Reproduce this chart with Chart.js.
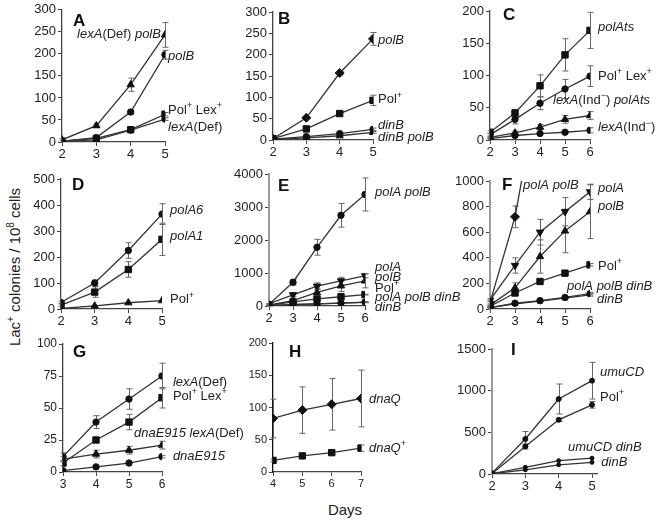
<!DOCTYPE html>
<html>
<head>
<meta charset="utf-8">
<script src="https://cdn.jsdelivr.net/npm/chart.js@4.4.1/dist/chart.umd.min.js"></script>
<style>
  html, body { margin: 0; padding: 0; background: #fff; }
  #wrap { position: relative; width: 661px; height: 523px; overflow: hidden;
          font-family: 'Liberation Sans', Arial, sans-serif; color: #222; }
  #wrap canvas { position: absolute; left: 0; top: 0; }
  #ytitle { position: absolute; left: -136px; top: 258px; width: 300px; text-align: center;
            font-size: 15px; transform: rotate(-90deg); }
  #xtitle { position: absolute; left: 300px; top: 501px; width: 90px; text-align: center; font-size: 15px; }
  sup { font-size: 10px; }
</style>
</head>
<body>
<div id="wrap">
  <div id="ytitle">Lac<sup>+</sup> colonies / 10<sup>8</sup> cells</div>
  <div id="xtitle">Days</div>
</div>
<script>
// ---- data ----
const daysA = [2, 3, 4, 5];
const aLexDefPolB = [5, 37, 130, 243];   const aLexDefPolBErr = [2, 4, 15, 28];
const aPolB = [2, 10, 68, 198];          const aPolBErr = [0, 0, 4, 10];
const aPolLex = [2, 8, 28, 63];          const aPolLexErr = [0, 0, 0, 4];
const aLexDef = [1, 5, 27, 52];          const aLexDefErr = [0, 0, 0, 3];

const daysB = [2, 3, 4, 5];
const bPolB = [3, 52, 157, 237];         const bPolBErr = [0, 3, 4, 15];
const bPol = [3, 26, 62, 93];            const bPolErr = [0, 2, 5, 12];
const bDinB = [2, 8, 15, 25];            const bDinBErr = [0, 0, 2, 3];
const bDinBPolB = [1, 5, 10, 18];        const bDinBPolBErr = [0, 0, 0, 2];

const daysC = [2, 3, 4, 5, 6];
const cPolAts = [12, 42, 84, 132, 170];  const cPolAtsErr = [2, 5, 17, 25, 28];
const cPolLex = [8, 32, 57, 79, 99];     const cPolLexErr = [2, 7, 10, 15, 16];
const cIndPolAts = [4, 11, 20, 32, 38];  const cIndPolAtsErr = [1, 3, 4, 6, 6];
const cInd = [2, 7, 10, 12, 15];         const cIndErr = [1, 1, 1, 2, 4];

const daysD = [2, 3, 4, 5];
const dPolA6 = [25, 100, 225, 365];      const dPolA6Err = [5, 12, 30, 40];
const dPolA1 = [15, 65, 152, 268];       const dPolA1Err = [5, 20, 30, 62];
const dPol = [2, 12, 24, 32];            const dPolErr = [0, 0, 0, 0];

// panels E and F show the same strains at two y ranges
const daysEF = [2, 3, 4, 5, 6];
const efPolAPolB = [50, 720, 1780, 2750, 3380];  const efPolAPolBErr = [20, 85, 240, 360, 500];
const efPolA = [70, 340, 600, 760, 915];         const efPolAErr = [10, 60, 100, 110, 60];
const efPolB = [30, 165, 410, 610, 760];         const efPolBErr = [10, 40, 130, 170, 210];
const efPol = [20, 125, 215, 280, 345];          const efPolErr = [5, 10, 10, 10, 10];
const efPolAPolBDinB = [10, 45, 65, 90, 120];    const efPolAPolBDinBErr = [3, 5, 5, 8, 10];
const efDinB = [10, 40, 62, 85, 110];            const efDinBErr = [3, 5, 5, 8, 10];

const daysG = [3, 4, 5, 6];
const gLexDef = [12, 39, 57, 75];        const gLexDefErr = [3, 5, 8, 10];
const gPolLex = [7, 25, 39, 58];         const gPolLexErr = [2, 2, 6, 8];
const gDnaELex = [10, 14, 17, 21];       const gDnaELexErr = [2, 3, 3, 3];
const gDnaE = [1, 4, 7, 12];             const gDnaEErr = [0, 0, 0, 1];

const daysH = [4, 5, 6, 7];
const hDnaQ = [83, 96, 105, 114];        const hDnaQErr = [30, 36, 40, 44];
const hDnaQPlus = [18, 25, 30, 37];      const hDnaQPlusErr = [2, 2, 3, 5];

const daysI = [2, 3, 4, 5];
const iUmuCD = [10, 420, 900, 1120];     const iUmuCDErr = [0, 90, 180, 220];
const iPol = [5, 330, 650, 830];         const iPolErr = [0, 30, 20, 40];
const iUmuDinB = [5, 80, 160, 190];      const iUmuDinBErr = [0, 0, 0, 0];
const iDinB = [3, 50, 110, 140];         const iDinBErr = [0, 0, 0, 0];

// ---- drawing ----
const FONT = "'Liberation Sans', Arial, sans-serif";
const YW = 48, XH = 20;
const wrap = document.getElementById('wrap');

function drawRich(ctx, s, x, y, size) {
  let it = false, sup = false;
  ctx.textBaseline = 'middle';
  ctx.textAlign = 'left';
  s.split(/([_^])/).forEach(p => {
    if (p === '_') { it = !it; return; }
    if (p === '^') { sup = !sup; return; }
    if (!p) return;
    const fs = sup ? Math.round(size * 0.7) : size;
    ctx.font = (it ? 'italic ' : '') + fs + 'px ' + FONT;
    ctx.fillText(p, x, sup ? y - size * 0.35 : y);
    x += ctx.measureText(p).width;
  });
}

const errorBars = {
  id: 'errorBars',
  beforeDatasetsDraw(chart) {
    const ctx = chart.ctx, a = chart.chartArea;
    const xs = chart.scales.x, ys = chart.scales.y;
    ctx.save();
    ctx.beginPath();
    ctx.rect(a.left - 6, a.top - 6, a.right - a.left + 12, a.bottom - a.top + 12);
    ctx.clip();
    ctx.strokeStyle = '#666';
    ctx.lineWidth = 1;
    chart.data.datasets.forEach(ds => {
      if (!ds.err) return;
      ds.data.forEach((p, j) => {
        const e = ds.err[j];
        if (!e) return;
        const x = Math.round(xs.getPixelForValue(p.x)) + 0.5;
        const y1 = ys.getPixelForValue(p.y + e), y2 = ys.getPixelForValue(p.y - e);
        ctx.beginPath();
        ctx.moveTo(x, y1); ctx.lineTo(x, y2);
        ctx.moveTo(x - 3, y1); ctx.lineTo(x + 3, y1);
        ctx.moveTo(x - 3, y2); ctx.lineTo(x + 3, y2);
        ctx.stroke();
      });
    });
    ctx.restore();
  }
};

function makeNotes(p) {
  return {
    id: 'notes',
    afterDraw(chart) {
      const ctx = chart.ctx, a = chart.chartArea;
      ctx.save();
      ctx.fillStyle = '#111';
      ctx.font = 'bold 17px ' + FONT;
      ctx.textAlign = 'left';
      ctx.textBaseline = 'middle';
      ctx.fillText(p.letter[0], a.left + p.letter[1], a.top + p.letter[2]);
      ctx.fillStyle = '#222';
      p.notes.forEach(n => {
        drawRich(ctx, n[0], chart.scales.x.getPixelForValue(n[1]), chart.scales.y.getPixelForValue(n[2]), 13);
      });
      ctx.restore();
    }
  };
}

function series(days, y, err, marker, extra) {
  const radius = marker === 'rect' ? 4.5 : (marker === 'triangle' ? 4.2 : (marker === 'rectRot' ? 4.5 : 3.2));
  return Object.assign({
    data: days.map((d, i) => ({ x: d, y: y[i] })),
    err: err,
    borderColor: '#333',
    borderWidth: 1.3,
    backgroundColor: '#111',
    pointBackgroundColor: '#111',
    pointBorderColor: '#111',
    pointBorderWidth: 1,
    pointStyle: marker,
    pointRadius: radius,
    tension: 0
  }, extra || {});
}

function makePanel(p) {
  const cv = document.createElement('canvas');
  cv.width = 661; cv.height = 523;
  wrap.appendChild(cv);
  const b = p.box;
  const axisColor = p.axisColor || '#444';
  new Chart(cv, {
    type: 'line',
    data: { datasets: p.series },
    options: {
      responsive: false,
      animation: false,
      devicePixelRatio: 1,
      layout: { padding: { left: b[0] - YW, top: b[1], right: 661 - b[2], bottom: 523 - b[3] - XH } },
      plugins: { legend: { display: false }, tooltip: { enabled: false } },
      scales: {
        x: {
          type: 'linear', min: p.xMin, max: p.xMax,
          ticks: { stepSize: 1, color: '#222', padding: 1, font: { family: FONT, size: p.tickSize || 13 },
                   callback: v => String(Math.round(v)) },
          grid: { drawOnChartArea: false, tickLength: 4, color: '#444' },
          border: { color: '#444', width: 1.3 },
          afterBuildTicks(s) {
            // whole days only (panel I runs its axis a little past day 5)
            const t = [];
            for (let v = Math.ceil(s.min); v <= Math.floor(s.max); v++) t.push({ value: v });
            s.ticks = t;
          },
          afterFit(s) { s.height = XH; }
        },
        y: {
          min: 0, max: p.yMax,
          ticks: { stepSize: p.yStep, color: '#222', padding: 2, font: { family: FONT, size: p.tickSize || 13 },
                   callback: v => String(v) },
          grid: { drawOnChartArea: false, tickLength: 4, color: '#444' },
          border: { color: axisColor, width: p.axisWidth || 1.3 },
          afterFit(s) { s.width = YW; }
        }
      }
    },
    plugins: [errorBars, makeNotes(p)]
  });
}

const panels = [
  { box: [62, 8, 165, 142], xMin: 2, xMax: 5, yMax: 300, yStep: 50, letter: ['A', 11, 12],
    series: [
      series(daysA, aLexDefPolB, aLexDefPolBErr, 'triangle'),
      series(daysA, aPolB, aPolBErr, 'circle'),
      series(daysA, aPolLex, aPolLexErr, 'rect'),
      series(daysA, aLexDef, aLexDefErr, 'circle')
    ],
    notes: [['_lexA_(Def) _polB_', 2.44, 244], ['_polB_', 5.09, 195], ['Pol^+^ Lex^+^', 5.09, 72], ['_lexA_(Def)', 5.09, 34]] },
  { box: [273, 12, 373, 140], xMin: 2, xMax: 5, yMax: 300, yStep: 50, letter: ['B', 5, 7],
    series: [
      series(daysB, bPolB, bPolBErr, 'rectRot'),
      series(daysB, bPol, bPolErr, 'rect'),
      series(daysB, bDinB, bDinBErr, 'circle'),
      series(daysB, bDinBPolB, bDinBPolBErr, 'triangle')
    ],
    notes: [['_polB_', 5.15, 234], ['Pol^+^', 5.15, 94], ['_dinB_', 5.15, 35], ['_dinB polB_', 5.15, 7]] },
  { box: [490, 11, 590, 140], xMin: 2, xMax: 6, yMax: 200, yStep: 50, letter: ['C', 13, 4],
    series: [
      series(daysC, cPolAts, cPolAtsErr, 'rect'),
      series(daysC, cPolLex, cPolLexErr, 'circle'),
      series(daysC, cIndPolAts, cIndPolAtsErr, 'triangle'),
      series(daysC, cInd, cIndErr, 'circle')
    ],
    notes: [['_polAts_', 6.32, 174], ['Pol^+^ Lex^+^', 6.32, 99], ['_lexA_(Ind^−^) _polAts_', 4.52, 62], ['_lexA_(Ind^−^)', 6.32, 19]] },
  { box: [61, 179, 162, 309], xMin: 2, xMax: 5, yMax: 500, yStep: 100, letter: ['D', 11, 6],
    series: [
      series(daysD, dPolA6, dPolA6Err, 'circle'),
      series(daysD, dPolA1, dPolA1Err, 'rect'),
      series(daysD, dPol, dPolErr, 'triangle')
    ],
    notes: [['_polA6_', 5.24, 381], ['_polA1_', 5.24, 281], ['Pol^+^', 5.24, 35]] },
  { box: [269, 174, 365, 306], xMin: 2, xMax: 6, yMax: 4000, yStep: 1000, letter: ['E', 9, 12],
    axisColor: '#999', axisWidth: 2,
    series: [
      series(daysEF, efPolAPolB, efPolAPolBErr, 'circle'),
      series(daysEF, efPolA, efPolAErr, 'triangle', { pointRotation: 180 }),
      series(daysEF, efPolB, efPolBErr, 'triangle'),
      series(daysEF, efPol, efPolErr, 'rect'),
      series(daysEF, efPolAPolBDinB, efPolAPolBDinBErr, 'circle'),
      series(daysEF, efDinB, efDinBErr, 'crossRot')
    ],
    notes: [['_polA polB_', 6.42, 3455], ['_polA_', 6.42, 1180], ['_polB_', 6.42, 880], ['Pol^+^', 6.42, 545],
            ['_polA polB dinB_', 6.42, 270], ['_dinB_', 6.42, -30]] },
  { box: [490, 181, 590, 309], xMin: 2, xMax: 6, yMax: 1000, yStep: 200, letter: ['F', 12, 4],
    axisColor: '#999', axisWidth: 2,
    series: [
      series(daysEF, efPolAPolB, efPolAPolBErr, 'rectRot'),
      series(daysEF, efPolA, efPolAErr, 'triangle', { pointRotation: 180 }),
      series(daysEF, efPolB, efPolBErr, 'triangle'),
      series(daysEF, efPol, efPolErr, 'rect'),
      series(daysEF, efPolAPolBDinB, efPolAPolBDinBErr, 'circle'),
      series(daysEF, efDinB, efDinBErr, 'crossRot')
    ],
    notes: [['_polA polB_', 3.32, 969], ['_polA_', 6.32, 945], ['_polB_', 6.32, 805], ['Pol^+^', 6.32, 336],
            ['_polA polB dinB_', 5.08, 180], ['_dinB_', 6.28, 78]] },
  { box: [63, 344, 162, 472], xMin: 3, xMax: 6, yMax: 100, yStep: 25, letter: ['G', 10, 8], tickSize: 12,
    series: [
      series(daysG, gLexDef, gLexDefErr, 'circle'),
      series(daysG, gPolLex, gPolLexErr, 'rect'),
      series(daysG, gDnaELex, gDnaELexErr, 'triangle'),
      series(daysG, gDnaE, gDnaEErr, 'circle')
    ],
    notes: [['_lexA_(Def)', 6.33, 70], ['Pol^+^ Lex^+^', 6.33, 59], ['_dnaE915 lexA_(Def)', 5.15, 30], ['_dnaE915_', 6.33, 12]] },
  { box: [273, 343, 361, 472], xMin: 4, xMax: 7, yMax: 200, yStep: 50, letter: ['H', 16, 9], tickSize: 11,
    axisColor: '#111',
    series: [
      series(daysH, hDnaQ, hDnaQErr, 'rectRot'),
      series(daysH, hDnaQPlus, hDnaQPlusErr, 'rect')
    ],
    notes: [['_dnaQ_', 7.27, 113], ['_dnaQ_^+^', 7.27, 37]] },
  { box: [492, 349, 597, 474], xMin: 2, xMax: 5.15, yMax: 1500, yStep: 500, letter: ['I', 19, 1],
    axisColor: '#999', axisWidth: 2,
    series: [
      series(daysI, iUmuCD, iUmuCDErr, 'circle', { pointRadius: 2.5 }),
      series(daysI, iPol, iPolErr, 'circle', { pointRadius: 2.5 }),
      series(daysI, iUmuDinB, iUmuDinBErr, 'circle', { pointRadius: 2 }),
      series(daysI, iDinB, iDinBErr, 'circle', { pointRadius: 2 })
    ],
    notes: [['_umuCD_', 5.24, 1224], ['Pol^+^', 5.24, 924], ['_umuCD dinB_', 4.28, 324], ['_dinB_', 5.28, 144]] }
];

panels.forEach(makePanel);
</script>
</body>
</html>
